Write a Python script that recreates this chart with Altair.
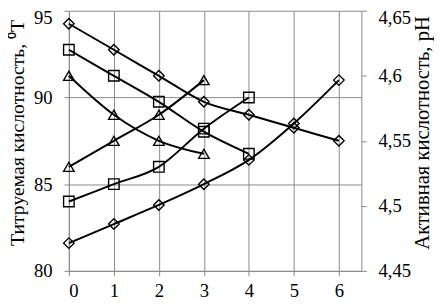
import altair as alt
import pandas as pd

# ---- data ----
days = [0, 1, 2, 3, 4, 5, 6]

# titratable acidity, °T (left axis) — increasing curves
ta_diamond = [81.6, 82.7, 83.8, 85.0, 86.4, 88.5, 91.0]
ta_square = [84.0, 85.0, 86.0, 88.2, 90.0]
ta_triangle = [86.0, 87.5, 89.0, 91.0]

# active acidity, pH (right axis) — decreasing curves
ph_diamond = [4.64, 4.62, 4.60, 4.58, 4.57, 4.56, 4.55]
ph_square = [4.62, 4.60, 4.58, 4.557, 4.54]
ph_triangle = [4.60, 4.57, 4.55, 4.54]

series_names = ["diamond", "square", "triangle"]
shape_range = ["diamond", "square", "triangle-up"]


def build(series):
    rows = []
    for name, vals in series:
        for i, v in enumerate(vals):
            rows.append({"x": days[i], "v": v, "s": name})
    return pd.DataFrame(rows)


df_left = build([("diamond", ta_diamond), ("square", ta_square), ("triangle", ta_triangle)])
df_right = build([("diamond", ph_diamond), ("square", ph_square), ("triangle", ph_triangle)])

FONT = "Liberation Serif"
GRID = "#8a8a8a"

x_enc = alt.X(
    "x:Q",
    scale=alt.Scale(domain=[0, 6.5], nice=False, zero=False),
    axis=alt.Axis(
        values=days, format="d", title=None, grid=True, gridColor=GRID,
        domainColor=GRID, tickColor=GRID, tickSize=5, labelPadding=6,
        labelFontSize=19, labelFont=FONT, labelColor="black",
    ),
)

shape_enc = alt.Shape(
    "s:N",
    scale=alt.Scale(domain=series_names, range=shape_range),
    legend=None,
)

y_left = alt.Y(
    "v:Q",
    scale=alt.Scale(domain=[80, 95], nice=False, zero=False),
    axis=alt.Axis(
        values=[80, 85, 90, 95], title="Титруемая кислотность, ⁰T",
        grid=True, gridColor=GRID, domainColor=GRID, tickColor=GRID,
        tickSize=5, labelPadding=12, labelFontSize=19, labelFont=FONT,
        labelColor="black",
        labelOffset={"condition": {"test": "datum.value >= 95", "value": 7}, "value": 0},
        titleFont=FONT, titleFontSize=20,
        titleFontWeight="normal", titleColor="black", titleX=-52,
        titleY=124, titleBaseline="middle", titleAngle=270,
    ),
)

y_right = alt.Y(
    "v:Q",
    scale=alt.Scale(domain=[4.45, 4.65], nice=False, zero=False),
    axis=alt.Axis(
        orient="right", values=[4.45, 4.5, 4.55, 4.6, 4.65],
        labelExpr="replace(format(datum.value, '.2~f'), '.', ',')",
        title="Активная кислотность, pH", grid=False,
        domainColor=GRID, tickColor=GRID, tickSize=5, labelPadding=12,
        labelFontSize=19, labelFont=FONT, labelColor="black",
        labelOffset={"condition": {"test": "datum.value >= 4.649", "value": 7}, "value": 0},
        titleFont=FONT, titleFontSize=21, titleFontWeight="normal",
        titleColor="black", titleX=62, titleY=124, titleBaseline="middle",
        titleAngle=270,
    ),
)


def pair(df, y):
    line = alt.Chart(df).mark_line(
        color="black", strokeWidth=2, interpolate="monotone"
    ).encode(x=x_enc, y=y, detail="s:N")
    pts = alt.Chart(df).mark_point(
        filled=False, color="black", size=115, strokeWidth=1.4, opacity=1
    ).encode(x=x_enc, y=y, shape=shape_enc)
    return alt.layer(line, pts)


left = pair(df_left, y_left)
right = pair(df_right, y_right)

chart = (
    alt.layer(left, right)
    .resolve_scale(y="independent")
    .properties(
        width=298, height=265,
        autosize=alt.AutoSizeParams(type="none"),
        padding={"left": 62, "top": 0, "right": 74, "bottom": 34},
        background="white",
    )
    .configure_view(stroke=None)
)

chart.save("out.html", embed_options={"renderer": "svg", "actions": False})
